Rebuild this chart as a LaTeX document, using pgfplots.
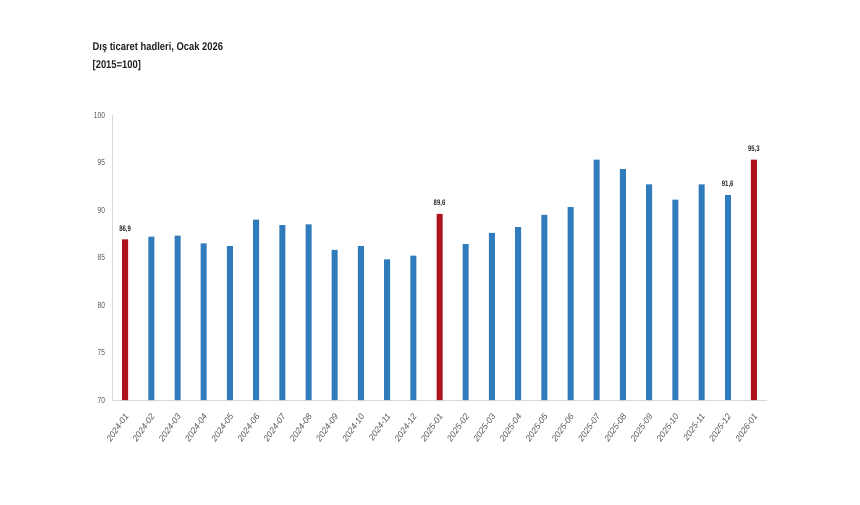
\documentclass[border=0pt]{standalone}
\usepackage{fontspec}
\setmainfont{Liberation Sans}
\newfontfamily\titlefont{Liberation Sans}[FakeStretch=0.84]
\newfontfamily\condfont{Liberation Sans}[FakeStretch=0.75]
\usepackage{pgfplots}
\pgfplotsset{compat=1.18}
\usepackage{pgfplotstable}

\definecolor{barblue}{RGB}{47,123,188}
\definecolor{barred}{RGB}{174,18,28}
\definecolor{ticktext}{RGB}{85,85,85}
\definecolor{axisgray}{RGB}{217,217,217}

% 0 = 2024-01 ... 24 = 2026-01
\pgfplotstableread{
x y
1 87.2
2 87.3
3 86.5
4 86.2
5 89.0
6 88.4
7 88.5
8 85.8
9 86.2
10 84.8
11 85.2
13 86.4
14 87.6
15 88.2
16 89.5
17 90.3
18 95.3
19 94.3
20 92.7
21 91.1
22 92.7
}\bluedata

\pgfplotstableread{
x y
23 91.6
}\bluelabeled

\pgfplotstableread{
x y
0 86.9
12 89.6
24 95.3
}\reddata

\begin{document}
\begin{tikzpicture}
\path[use as bounding box] (0pt,0pt) rectangle (516pt,-302.4pt);
\node[anchor=base west, inner sep=0pt, text=black!88,
  font=\titlefont\bfseries\fontsize{6.7}{8}\selectfont] at (55.4pt,-30pt)
  {Dış ticaret hadleri, Ocak 2026};
\node[anchor=base west, inner sep=0pt, text=black!88,
  font=\titlefont\bfseries\fontsize{6.7}{8}\selectfont] at (55.4pt,-41pt)
  {[2015=100]};
\begin{axis}[
    at={(67.2pt,-240pt)}, anchor=south west,
    width=393pt, height=171pt, scale only axis,
    xmin=-0.5, xmax=24.5,
    ymin=70, ymax=100,
    ytick={70,75,...,100},
    xtick={0,...,24},
    xticklabels={2024-01,2024-02,2024-03,2024-04,2024-05,2024-06,2024-07,2024-08,2024-09,2024-10,2024-11,2024-12,2025-01,2025-02,2025-03,2025-04,2025-05,2025-06,2025-07,2025-08,2025-09,2025-10,2025-11,2025-12,2026-01},
    axis x line*=bottom, axis y line*=left,
    axis line style={axisgray, line width=0.5pt},
    major tick length=0pt,
    ybar, bar width=3.6pt, bar shift=0pt,
    /pgf/number format/assume math mode=true,
    yticklabel style={font=\condfont\fontsize{5.3}{6}\selectfont, text=ticktext, inner sep=0pt, xshift=-4pt},
    xticklabel style={font=\itshape\fontsize{5.2}{6}\selectfont, text=ticktext, xshift=1pt, yshift=-8.5pt, rotate=55, anchor=east, inner sep=0pt},
    nodes near coords style={font=\condfont\bfseries\fontsize{4.8}{5}\selectfont, text=black!85, inner sep=0pt, yshift=4pt, anchor=south},
    clip=false,
]
\addplot[fill=barblue, draw=none] table[x=x,y=y] {\bluedata};
\addplot[fill=barblue, draw=none,
    nodes near coords={\pgfmathprintnumber[fixed,fixed zerofill,precision=1,use comma]{\pgfplotspointmeta}}]
    table[x=x,y=y] {\bluelabeled};
\addplot[fill=barred, draw=none,
    nodes near coords={\pgfmathprintnumber[fixed,fixed zerofill,precision=1,use comma]{\pgfplotspointmeta}}]
    table[x=x,y=y] {\reddata};
\end{axis}
\end{tikzpicture}
\end{document}
